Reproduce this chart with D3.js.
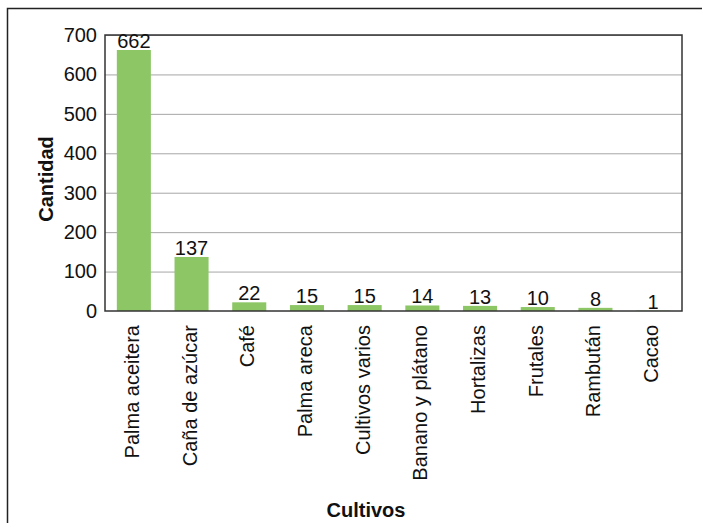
<!DOCTYPE html>
<html>
<head>
<meta charset="utf-8">
<script src="https://cdn.jsdelivr.net/npm/d3@7"></script>
<style>
    body { margin: 0; background: #fff; }
    svg { font-family: "Liberation Sans", Arial, sans-serif; }
</style>
</head>
<body>
<svg id="chart" width="702" height="523"></svg>
<script>
// cultivos y cantidad
var categories = ['Palma aceitera', 'Caña de azúcar', 'Café', 'Palma areca', 'Cultivos varios',
    'Banano y plátano', 'Hortalizas', 'Frutales', 'Rambután', 'Cacao'];
var values = [662, 137, 22, 15, 15, 14, 13, 10, 8, 1];
var yTicks = [0, 100, 200, 300, 400, 500, 600, 700];

var svg = d3.select('#chart'),
    plotLeft = 105, plotRight = 682, plotTop = 35, plotBottom = 311,
    fontFamily = '"Liberation Sans", Arial, sans-serif';

// outer frame (only top and left edges show)
svg.append('path')
    .attr('d', 'M7.5,530V8.5H710')
    .attr('fill', 'none')
    .attr('stroke', '#222')
    .attr('stroke-width', 1.5);

var x = d3.scaleBand()
    .domain(categories)
    .range([plotLeft, plotRight])
    .paddingInner(0.41)
    .paddingOuter(0.205);

var y = d3.scaleLinear()
    .domain([0, 700])
    .range([plotBottom, plotTop]);

// gridlines
svg.append('g')
    .selectAll('line')
    .data(yTicks.slice(1))
    .enter().append('line')
    .attr('x1', plotLeft)
    .attr('x2', plotRight)
    .attr('y1', function(d) { return y(d) + 0.5; })
    .attr('y2', function(d) { return y(d) + 0.5; })
    .attr('stroke', '#a6a6a6')
    .attr('stroke-width', 1);

svg.append('g')
    .selectAll('rect')
    .data(values)
    .enter().append('rect')
    .attr('x', function(d, i) { return x(categories[i]); })
    .attr('width', x.bandwidth())
    .attr('y', function(d) { return y(d); })
    .attr('height', function(d) { return plotBottom - y(d); })
    .attr('fill', '#8cc665');

// plot border
svg.append('rect')
    .attr('x', plotLeft)
    .attr('y', plotTop)
    .attr('width', plotRight - plotLeft)
    .attr('height', plotBottom - plotTop)
    .attr('fill', 'none')
    .attr('stroke', '#333')
    .attr('stroke-width', 1.5);

// value labels
svg.append('g')
    .selectAll('text')
    .data(values)
    .enter().append('text')
    .attr('x', function(d, i) { return x(categories[i]) + x.bandwidth() / 2; })
    .attr('y', function(d) { return y(d) - 2; })
    .attr('text-anchor', 'middle')
    .attr('font-size', 20)
    .attr('fill', '#111')
    .text(function(d) { return d; });

// y axis
var yAxis = svg.append('g')
    .attr('transform', 'translate(' + plotLeft + ',0)')
    .call(d3.axisLeft(y).tickValues(yTicks).tickSize(0).tickPadding(8));
yAxis.select('.domain').remove();
yAxis.selectAll('text')
    .attr('font-size', 20)
    .attr('font-family', fontFamily)
    .attr('fill', '#111');

// x axis
var xAxis = svg.append('g')
    .attr('transform', 'translate(0,' + plotBottom + ')')
    .call(d3.axisBottom(x).tickSize(0).tickPadding(0));
xAxis.select('.domain').remove();
xAxis.selectAll('text')
    .attr('font-size', 20)
    .attr('font-family', fontFamily)
    .attr('fill', '#111')
    .attr('text-anchor', 'end')
    .attr('dy', '0.25em')
    .attr('transform', 'translate(0,14) rotate(-90)')
    .attr('x', 0)
    .attr('y', 0);

// axis titles
svg.append('text')
    .attr('transform', 'translate(53,179) rotate(-90)')
    .attr('text-anchor', 'middle')
    .attr('font-size', 20)
    .attr('font-weight', 'bold')
    .attr('fill', '#111')
    .text('Cantidad');

svg.append('text')
    .attr('x', 366)
    .attr('y', 517)
    .attr('text-anchor', 'middle')
    .attr('font-size', 20)
    .attr('font-weight', 'bold')
    .attr('fill', '#111')
    .text('Cultivos');
</script>
</body>
</html>
